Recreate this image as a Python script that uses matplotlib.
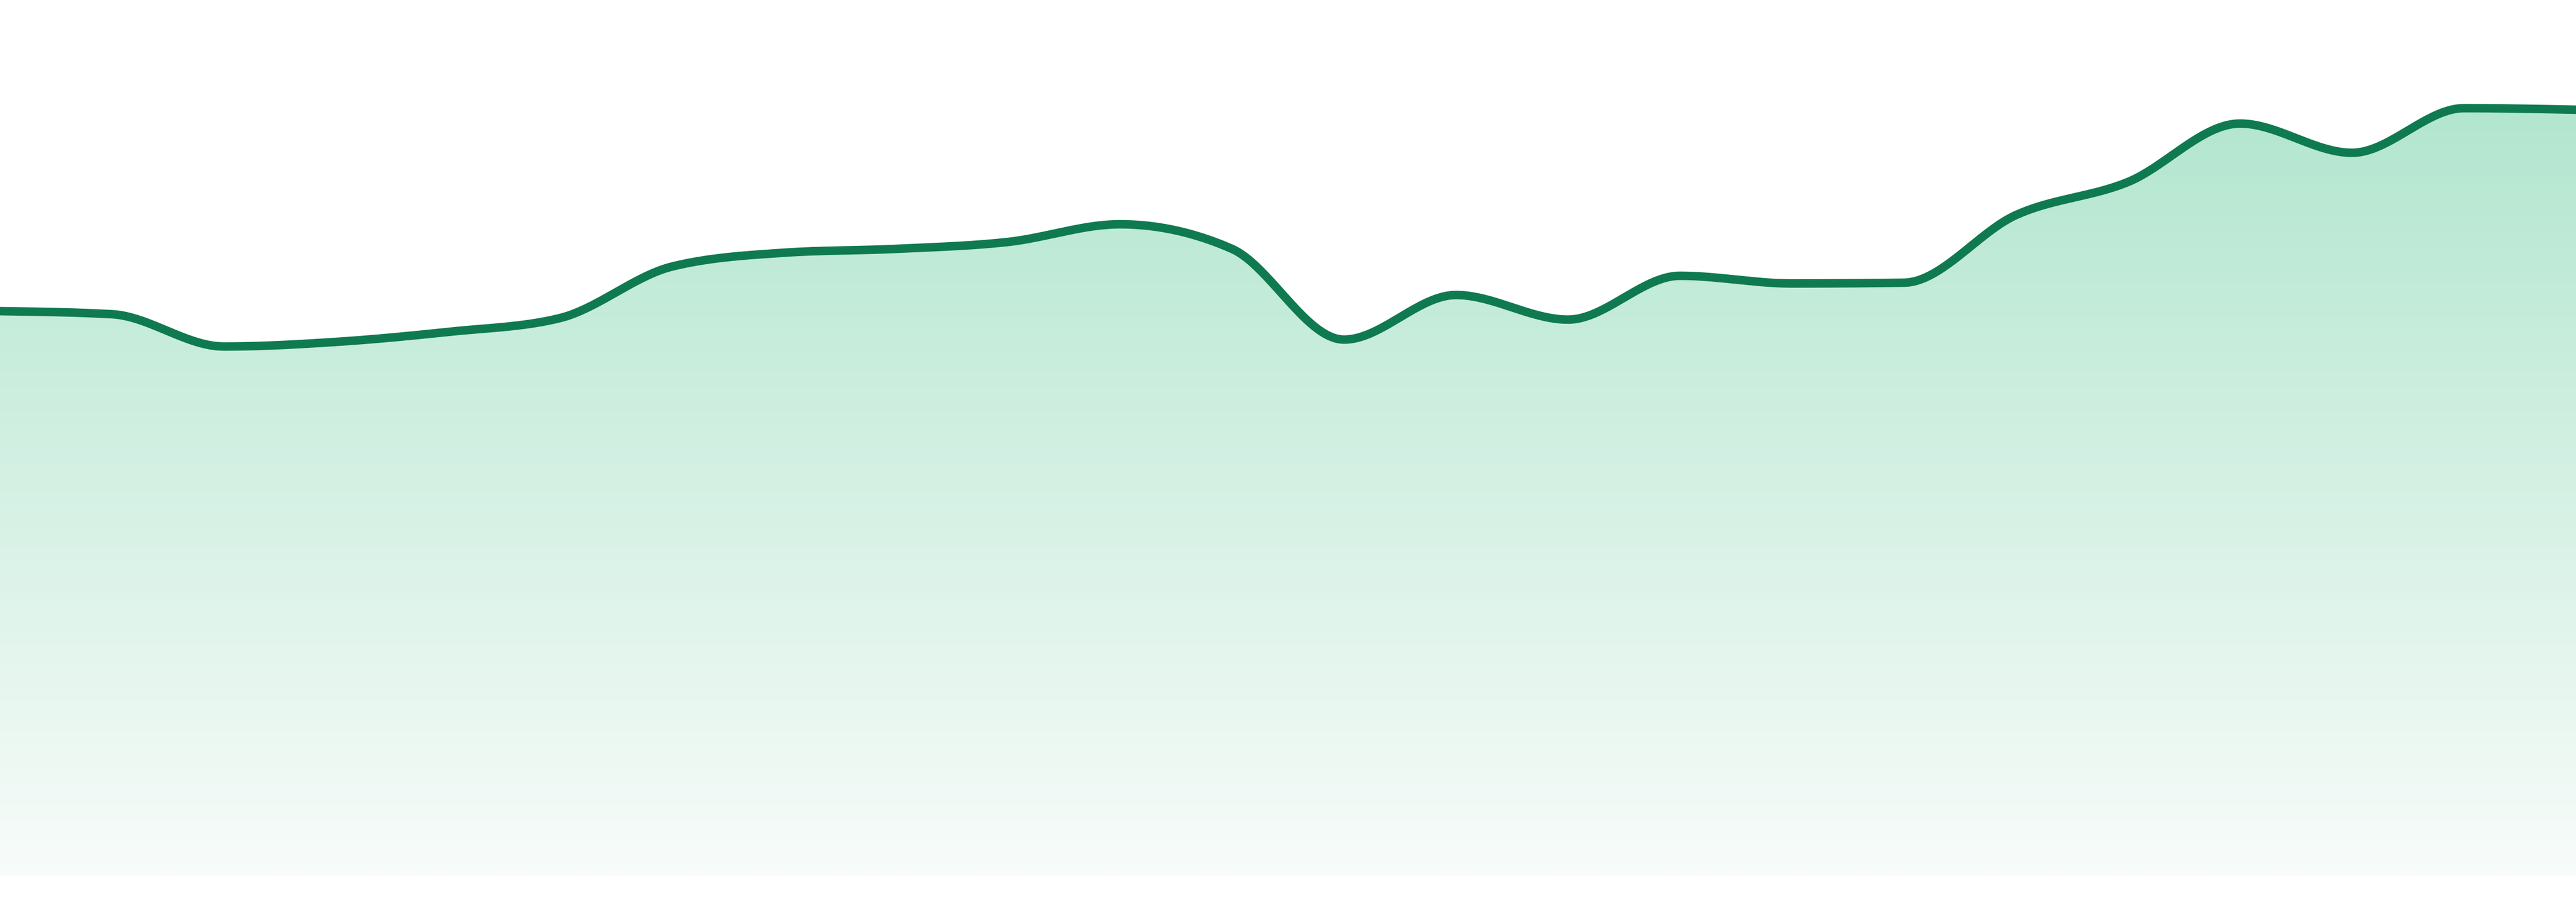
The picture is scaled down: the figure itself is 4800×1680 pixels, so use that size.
import matplotlib
matplotlib.use("Agg")
import matplotlib.pyplot as plt
import numpy as np

# one value per step
steps = np.arange(24)
values = [73.5, 73.1, 68.9, 69.5, 70.8, 72.6, 79.3, 81.1, 81.6, 82.5, 84.8, 81.6,
          69.8, 75.6, 72.4, 78.1, 77.1, 77.2, 86.0, 90.3, 97.9, 94.1, 99.9, 99.7]

line_color = "#0f7a50"
fill_top = (178, 230, 207)
fill_bottom = (248, 252, 250)


def monotone_curve(x, y, n=40):
    # d3 style curveMonotoneX, evaluated as cubic hermite pieces
    x = np.asarray(x, float)
    y = np.asarray(y, float)
    h = np.diff(x)
    s = np.diff(y) / h
    t = np.zeros(len(x))
    for i in range(1, len(x) - 1):
        p = (s[i - 1] * h[i] + s[i] * h[i - 1]) / (h[i - 1] + h[i])
        t[i] = (np.sign(s[i - 1]) + np.sign(s[i])) * min(abs(s[i - 1]), abs(s[i]), 0.5 * abs(p))
    t[0] = (3 * s[0] - t[1]) / 2
    t[-1] = (3 * s[-1] - t[-2]) / 2
    xs, ys = [], []
    for i in range(len(x) - 1):
        u = np.linspace(0, 1, n, endpoint=False)
        h00 = 2 * u**3 - 3 * u**2 + 1
        h10 = u**3 - 2 * u**2 + u
        h01 = -2 * u**3 + 3 * u**2
        h11 = u**3 - u**2
        xs.append(x[i] + u * h[i])
        ys.append(h00 * y[i] + h10 * h[i] * t[i] + h01 * y[i + 1] + h11 * h[i] * t[i + 1])
    xs.append([x[-1]])
    ys.append([y[-1]])
    return np.concatenate(xs), np.concatenate(ys)


def plot_chart():
    fig = plt.figure(figsize=(16, 5.6), dpi=300)
    ax = fig.add_axes([0, 0, 1, 1])
    ax.set_xlim(steps[0], steps[-1])
    ax.set_ylim(-3.35, 113.97)
    ax.axis("off")

    cx, cy = monotone_curve(steps, values)

    # gradient fill under the curve
    area = ax.fill_between(cx, 0, cy, color="none", linewidth=0)
    top_val = max(values)
    grad = np.linspace(0, 1, 256)[:, None]
    rgb = np.array(fill_top)[None, :] * (1 - grad) + np.array(fill_bottom)[None, :] * grad
    img = ax.imshow(rgb[:, None, :].repeat(2, axis=1) / 255.0, aspect="auto",
                    extent=[steps[0], steps[-1], 0, top_val], origin="upper",
                    interpolation="bilinear", zorder=1)
    img.set_clip_path(area.get_paths()[0], transform=ax.transData)

    ax.plot(cx, cy, color=line_color, linewidth=3.8, solid_joinstyle="round", zorder=3)

    fig.savefig("out.png", dpi=300, facecolor="white")


if __name__ == '__main__':
    plot_chart()
